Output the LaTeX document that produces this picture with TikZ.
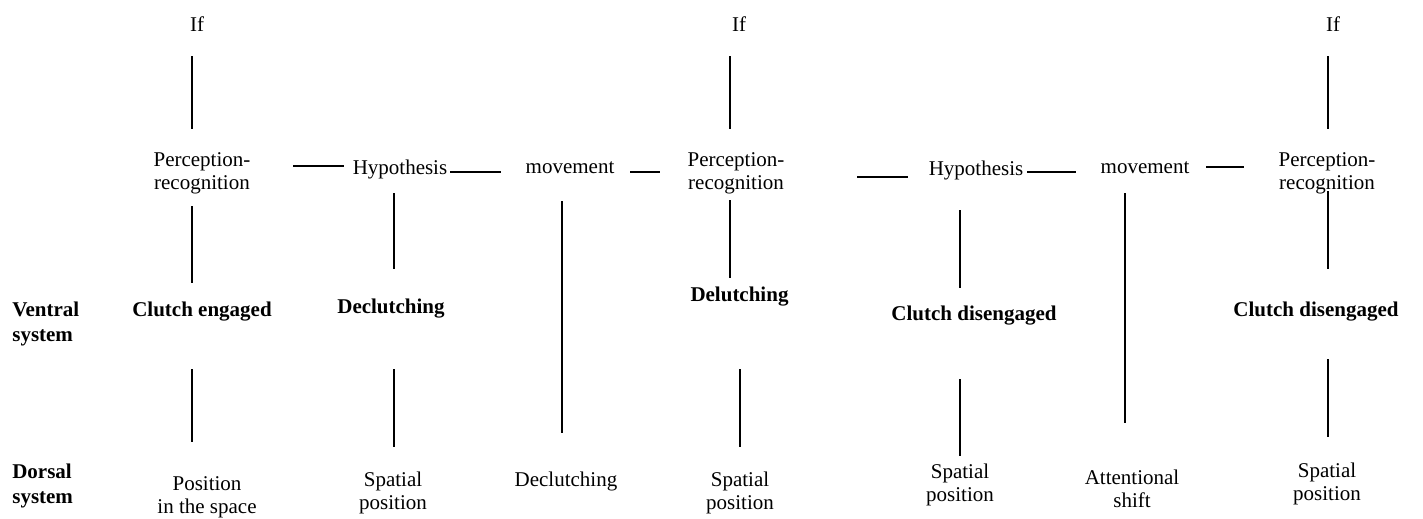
\documentclass[tikz,border=0pt]{standalone}
\usepackage{fontspec}
\setmainfont{Liberation Serif}
\begin{document}
\begin{tikzpicture}[x=0.6pt,y=-0.6pt,
  lbl/.style={inner sep=0pt,align=center,font=\fontsize{12.6}{14}\selectfont},
  blbl/.style={lbl,font=\fontsize{12.6}{14}\selectfont\bfseries},
  side/.style={inner sep=0pt,align=left,anchor=west,font=\fontsize{12.6}{15.2}\selectfont\bfseries},
  conn/.style={line width=1.3pt}]
\useasboundingbox (0,0) rectangle (1423,519);
% top row
\node[lbl] (if1) at (197,24) {If};
\node[lbl] (if2) at (739,24) {If};
\node[lbl] (if3) at (1333,24) {If};
% middle row
\node[lbl] (pr1) at (202,173) {Perception-\\recognition};
\node[lbl] (hy1) at (400,169) {Hypothesis};
\node[lbl] (mv1) at (570,168) {movement};
\node[lbl] (pr2) at (736,173) {Perception-\\recognition};
\node[lbl] (hy2) at (976,170) {Hypothesis};
\node[lbl] (mv2) at (1145,168) {movement};
\node[lbl] (pr3) at (1327,173) {Perception-\\recognition};
% ventral row
\node[side] (vs) at (12,324) {Ventral\\system};
\node[blbl] (ce) at (202,312) {Clutch engaged};
\node[blbl] (de1) at (391,309) {Declutching};
\node[blbl] (de2) at (739.5,297) {Delutching};
\node[blbl] (cd1) at (974,316) {Clutch disengaged};
\node[blbl] (cd2) at (1316,312) {Clutch disengaged};
% dorsal row
\node[side] (ds) at (12,486) {Dorsal\\system};
\node[lbl] (pos) at (207,497) {Position\\in the space};
\node[lbl] (sp1) at (393,493) {Spatial\\position};
\node[lbl] (dc) at (566,481) {Declutching};
\node[lbl] (sp2) at (740,493) {Spatial\\position};
\node[lbl] (sp3) at (960,485) {Spatial\\position};
\node[lbl] (at) at (1132,489) {Attentional\\shift};
\node[lbl] (sp4) at (1327,484) {Spatial\\position};
% connectors
\foreach \n/\xa/\ya/\xb/\yb in {
  a/192/56/192/129, b/730/56/730/129, c/1328/56/1328/129,
  d/192/206/192/283, e/394/193/394/269, f/562/201/562/433,
  g/730/200/730/278, h/960/210/960/288, i/1125/193/1125/423,
  j/1328/191/1328/269,
  k/192/369/192/442, l/394/369/394/447, m/740/369/740/447,
  n/960/379/960/456, o/1328/359/1328/437,
  p/293/166/344/166, q/450/172/501/172, r/630/172/660/172,
  s/857/177/908/177, t/1027/172/1076/172, u/1206/167/1244/167}
{
  \coordinate (\n s) at (\xa,\ya);
  \coordinate (\n e) at (\xb,\yb);
  \draw[conn] (\n s) -- (\n e);
}
\end{tikzpicture}
\end{document}
